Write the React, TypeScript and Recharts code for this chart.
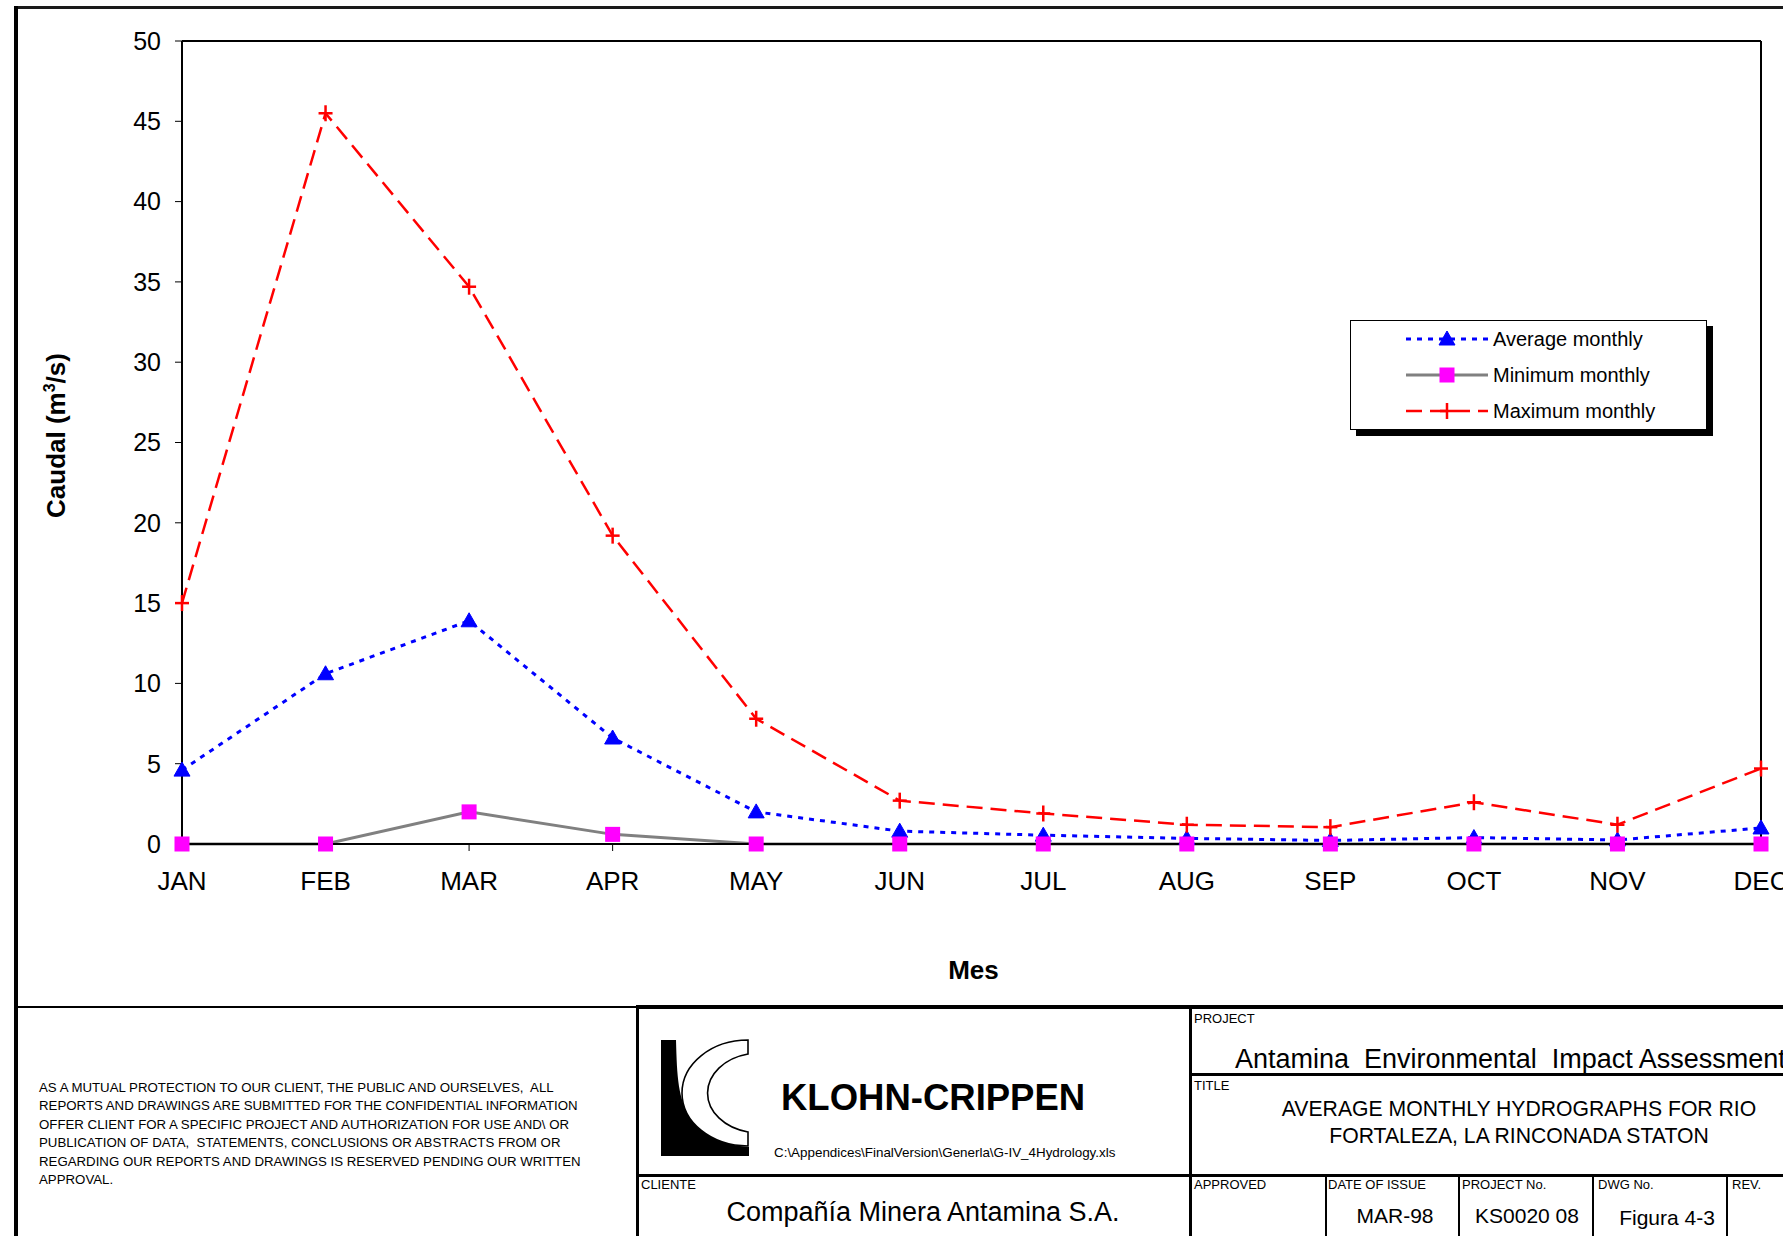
import React from 'react';
import { LineChart, Line, XAxis, YAxis, ReferenceLine, Legend, Label } from 'recharts';

const months = ['JAN', 'FEB', 'MAR', 'APR', 'MAY', 'JUN', 'JUL', 'AUG', 'SEP', 'OCT', 'NOV', 'DEC'];
const averageMonthly = [4.6, 10.6, 13.9, 6.6, 2.0, 0.8, 0.55, 0.35, 0.22, 0.4, 0.25, 1.0];
const minimumMonthly = [0, 0, 2.0, 0.6, 0, 0, 0, 0, 0, 0, 0, 0];
const maximumMonthly = [15.0, 45.5, 34.7, 19.2, 7.8, 2.7, 1.9, 1.2, 1.05, 2.6, 1.2, 4.7];
const yTicks = [0, 5, 10, 15, 20, 25, 30, 35, 40, 45, 50];
const seriesNames = ['Average monthly', 'Minimum monthly', 'Maximum monthly'];

const data = months.map((m, i) => ({
  month: m,
  avg: averageMonthly[i],
  min: minimumMonthly[i],
  max: maximumMonthly[i],
}));

const FONT = "'Liberation Sans', Arial, Helvetica, sans-serif";
const BLUE = '#0000FF';
const GRAY = '#808080';
const RED = '#FF0000';
const MAGENTA = '#FF00FF';

const TriangleMark = ({ cx, cy }: any) => (
  <path d={`M${cx},${cy - 8} L${cx + 8},${cy + 6} L${cx - 8},${cy + 6} Z`} fill={BLUE} stroke={BLUE} strokeWidth={1} />
);
const SquareMark = ({ cx, cy }: any) => (
  <rect x={cx - 7.5} y={cy - 7.5} width={15} height={15} fill={MAGENTA} />
);
const PlusMark = ({ cx, cy }: any) => (
  <g stroke={RED} strokeWidth={2.5}>
    <line x1={cx} x2={cx} y1={cy - 8} y2={cy + 8} />
    <line x1={cx - 7} x2={cx + 7} y1={cy} y2={cy} />
  </g>
);

const renderTri = (p: any) => <TriangleMark key={`t-${p.index}`} cx={p.cx} cy={p.cy} />;
const renderSq = (p: any) => <SquareMark key={`s-${p.index}`} cx={p.cx} cy={p.cy} />;
const renderPlus = (p: any) => <PlusMark key={`p-${p.index}`} cx={p.cx} cy={p.cy} />;

const legendRows = [
  { name: seriesNames[0], stroke: BLUE, width: 3, dash: '5 6', Mark: TriangleMark },
  { name: seriesNames[1], stroke: GRAY, width: 3, dash: undefined, Mark: SquareMark },
  { name: seriesNames[2], stroke: RED, width: 2.5, dash: '16 8', Mark: PlusMark },
];

const LegendBox = () => (
  <div
    style={{
      width: 357,
      height: 110,
      border: '1px solid #000',
      background: '#fff',
      boxShadow: '6px 6px 0 #000',
      boxSizing: 'border-box',
      position: 'relative',
      fontFamily: FONT,
    }}
  >
    {legendRows.map((r, i) => (
      <div
        key={r.name}
        style={{ position: 'absolute', left: 0, top: 18 + i * 36 - 13, height: 26, display: 'flex', alignItems: 'center' }}
      >
        <svg width={142} height={26} style={{ display: 'block' }}>
          <line x1={55} x2={137} y1={13} y2={13} stroke={r.stroke} strokeWidth={r.width} strokeDasharray={r.dash} />
          <r.Mark cx={96} cy={13} />
        </svg>
        <span style={{ fontSize: 20, color: '#000', whiteSpace: 'nowrap' }}>{r.name}</span>
      </div>
    ))}
  </div>
);

const CaudalLabel = (props: any) => {
  const vb = props.viewBox || { x: 10, y: 41, width: 172, height: 803 };
  const x = vb.x + 55;
  const y = vb.y + vb.height / 2 - 7;
  return (
    <text
      x={x}
      y={y}
      transform={`rotate(-90, ${x}, ${y})`}
      textAnchor="middle"
      fontFamily={FONT}
      fontWeight="bold"
      fontSize={26}
      fill="#000"
    >
      Caudal (m
      <tspan dy={-10} fontSize={16}>3</tspan>
      <tspan dy={10}>/s)</tspan>
    </text>
  );
};

const MesLabel = (props: any) => {
  const vb = props.viewBox || { x: 182, y: 844, width: 1579, height: 140 };
  return (
    <text x={vb.x + vb.width / 2 + 2} y={vb.y + 135} textAnchor="middle" fontFamily={FONT} fontWeight="bold" fontSize={26} fill="#000">
      Mes
    </text>
  );
};

const Bx = ({ l, t, w, h, bg = '#000' }: any) => (
  <div style={{ position: 'absolute', left: l, top: t, width: w, height: h, background: bg }} />
);

const Txt = ({ x, y, size, children, anchor = 'start', bold = false }: any) => {
  const style: any = {
    position: 'absolute',
    top: y - size * 0.6,
    fontSize: size,
    lineHeight: `${size * 1.2}px`,
    whiteSpace: 'pre',
    fontWeight: bold ? 'bold' : 'normal',
    color: '#000',
    fontFamily: FONT,
  };
  if (anchor === 'middle') {
    style.left = x - 400;
    style.width = 800;
    style.textAlign = 'center';
  } else {
    style.left = x;
  }
  return <div style={style}>{children}</div>;
};

const disclaimer = [
  'AS A MUTUAL PROTECTION TO OUR CLIENT, THE PUBLIC AND OURSELVES,  ALL',
  'REPORTS AND DRAWINGS ARE SUBMITTED FOR THE CONFIDENTIAL INFORMATION',
  'OFFER CLIENT FOR A SPECIFIC PROJECT AND AUTHORIZATION FOR USE AND\\ OR',
  'PUBLICATION OF DATA,  STATEMENTS, CONCLUSIONS OR ABSTRACTS FROM OR',
  'REGARDING OUR REPORTS AND DRAWINGS IS RESERVED PENDING OUR WRITTEN',
  'APPROVAL.',
];

const Logo = () => (
  <svg width={92} height={122} style={{ position: 'absolute', left: 659, top: 1037 }}>
    <path d="M2,3 H17 C18,40 19,62 32,82 C46,100 66,108 90,110 V119 H2 Z" fill="#000" />
    <path
      d="M89,3 A66,53 0 0 0 89,109 V95 A52,40 0 0 1 89,17 Z"
      fill="#fff"
      stroke="#000"
      strokeWidth={1.6}
    />
  </svg>
);

export default function App() {
  return (
    <div
      style={{
        position: 'absolute',
        left: 0,
        top: 0,
        width: 1783,
        height: 1236,
        overflow: 'hidden',
        background: '#fff',
        fontFamily: FONT,
      }}
    >
      <div style={{ position: 'absolute', left: 0, top: 0 }}>
        <LineChart width={1783} height={1006} data={data} margin={{ top: 41, right: 22, left: 10, bottom: 22 }}>
          <XAxis
            dataKey="month"
            interval={0}
            height={140}
            tickSize={7}
            tickMargin={21}
            axisLine={{ stroke: '#000', strokeWidth: 2 }}
            tickLine={{ stroke: '#000', strokeWidth: 1 }}
            tick={{ fontSize: 26, fill: '#000', fontFamily: FONT }}
          >
            <Label content={MesLabel} />
          </XAxis>
          <YAxis
            width={172}
            domain={[0, 50]}
            ticks={yTicks}
            interval={0}
            tickSize={7}
            tickMargin={14}
            axisLine={{ stroke: '#000', strokeWidth: 2 }}
            tickLine={{ stroke: '#000', strokeWidth: 1 }}
            tick={{ fontSize: 25, fill: '#000', fontFamily: FONT }}
          >
            <Label content={CaudalLabel} />
          </YAxis>
          <ReferenceLine y={50} stroke="#000" strokeWidth={2} />
          <ReferenceLine x="DEC" stroke="#000" strokeWidth={2} />
          <Line
            dataKey="avg"
            name={seriesNames[0]}
            stroke={BLUE}
            strokeWidth={3}
            strokeDasharray="5 6"
            dot={renderTri}
            activeDot={false}
            isAnimationActive={false}
          />
          <Line
            dataKey="min"
            name={seriesNames[1]}
            stroke={GRAY}
            strokeWidth={3}
            dot={renderSq}
            activeDot={false}
            isAnimationActive={false}
          />
          <Line
            dataKey="max"
            name={seriesNames[2]}
            stroke={RED}
            strokeWidth={2.5}
            strokeDasharray="16 8"
            dot={renderPlus}
            activeDot={false}
            isAnimationActive={false}
          />
          <Legend
            layout="vertical"
            align="center"
            verticalAlign="middle"
            content={LegendBox}
            wrapperStyle={{ position: 'absolute', left: 1350, top: 320, width: 357, height: 110 }}
          />
        </LineChart>
      </div>

      {/* outer frame */}
      <Bx l={14} t={6} w={1769} h={3} bg="#1a1a1a" />
      <Bx l={14} t={6} w={4} h={1230} />

      {/* title block lines */}
      <Bx l={14} t={1006} w={624} h={2} />
      <Bx l={637} t={1005} w={1146} h={4} />
      <Bx l={636} t={1005} w={3} h={231} />
      <Bx l={1189} t={1005} w={3} h={231} />
      <Bx l={637} t={1174} w={1146} h={3} />
      <Bx l={1190} t={1073} w={593} h={3} />
      <Bx l={1325} t={1175} w={2} h={61} />
      <Bx l={1458} t={1175} w={2} h={61} />
      <Bx l={1592} t={1175} w={2} h={61} />
      <Bx l={1726} t={1175} w={2} h={61} />

      {/* disclaimer */}
      <div
        style={{
          position: 'absolute',
          left: 39,
          top: 1079,
          fontSize: 13.25,
          lineHeight: '18.4px',
          whiteSpace: 'pre',
          color: '#000',
          fontFamily: FONT,
        }}
      >
        {disclaimer.map((l) => (
          <div key={l}>{l}</div>
        ))}
      </div>

      {/* logo block */}
      <Logo />
      <Txt x={781} y={1098} size={36.5} bold>
        KLOHN-CRIPPEN
      </Txt>
      <Txt x={774} y={1153} size={13.4}>
        C:\Appendices\FinalVersion\Generla\G-IV_4Hydrology.xls
      </Txt>
      <Txt x={641} y={1185} size={13}>
        CLIENTE
      </Txt>
      <Txt x={923} y={1212} size={27} anchor="middle">
        Compañía Minera Antamina S.A.
      </Txt>

      {/* project / title */}
      <Txt x={1194} y={1019} size={13}>
        PROJECT
      </Txt>
      <Txt x={1235} y={1059} size={27}>
        {'Antamina  Environmental  Impact Assessment'}
      </Txt>
      <Txt x={1194} y={1086} size={13}>
        TITLE
      </Txt>
      <Txt x={1519} y={1109} size={21.2} anchor="middle">
        AVERAGE MONTHLY HYDROGRAPHS FOR RIO
      </Txt>
      <Txt x={1519} y={1136} size={21.2} anchor="middle">
        FORTALEZA, LA RINCONADA STATON
      </Txt>

      {/* bottom row */}
      <Txt x={1194} y={1185} size={13}>APPROVED</Txt>
      <Txt x={1328} y={1185} size={13}>DATE OF ISSUE</Txt>
      <Txt x={1462} y={1185} size={13}>PROJECT No.</Txt>
      <Txt x={1598} y={1185} size={13}>DWG No.</Txt>
      <Txt x={1732} y={1185} size={13}>REV.</Txt>
      <Txt x={1395} y={1216} size={21} anchor="middle">MAR-98</Txt>
      <Txt x={1527} y={1216} size={21} anchor="middle">KS0020 08</Txt>
      <Txt x={1667} y={1218} size={21} anchor="middle">Figura 4-3</Txt>
    </div>
  );
}
